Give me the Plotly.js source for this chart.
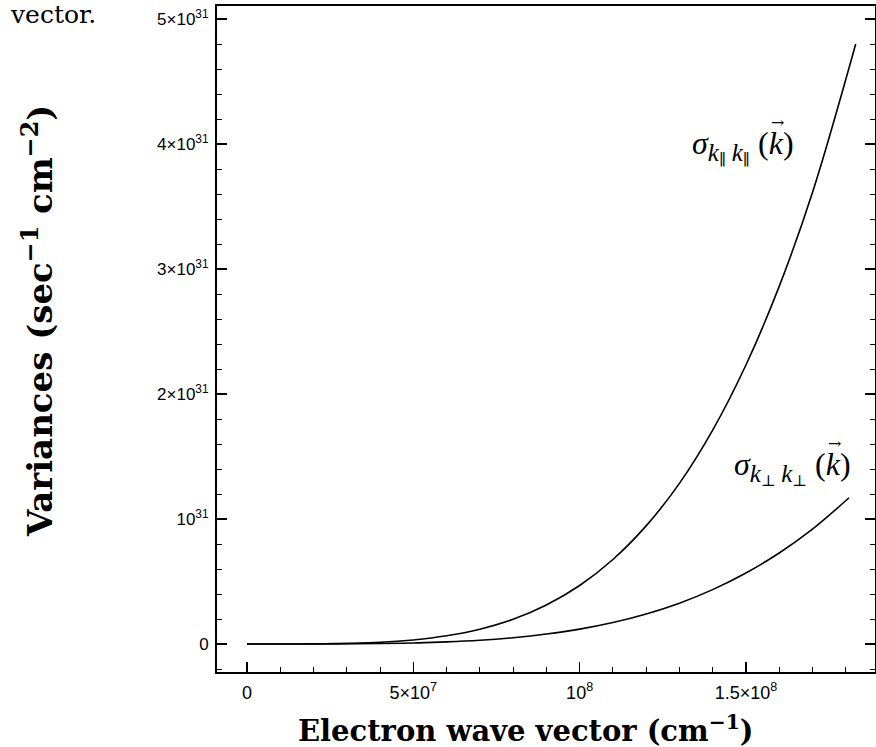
<!DOCTYPE html>
<html>
<head>
<meta charset="utf-8">
<script src="https://cdn.plot.ly/plotly-3.0.1.min.js"></script>
<style>
  html, body { margin: 0; padding: 0; background: #fff; }
  #chart { width: 876px; height: 747px; }
</style>
</head>
<body>
<div id="chart"></div>
<script>
// Electron wave vector (cm^-1)
const kPar = [0, 2e7, 4e7, 5e7, 6e7, 7e7, 8e7, 9e7, 10e7, 11e7, 12e7, 13e7, 14e7, 15e7, 16e7, 17e7, 18.3e7];
const sigmaPar = [0, 0.00095e31, 0.0138e31, 0.0325e31, 0.0655e31, 0.1185e31, 0.198e31, 0.312e31, 0.468e31,
                  0.676e31, 0.945e31, 1.285e31, 1.711e31, 2.232e31, 2.861e31, 3.612e31, 4.80e31];
const kPerp = [0, 2e7, 4e7, 5e7, 6e7, 7e7, 8e7, 9e7, 10e7, 11e7, 12e7, 13e7, 14e7, 15e7, 16e7, 17e7, 18.1e7];
const sigmaPerp = [0, 0.00024e31, 0.0035e31, 0.0083e31, 0.0167e31, 0.0302e31, 0.0505e31, 0.0795e31, 0.119e31,
                   0.172e31, 0.2405e31, 0.327e31, 0.435e31, 0.568e31, 0.728e31, 0.919e31, 1.17e31];

const xTickVals = [0, 5e7, 1e8, 1.5e8];
const xTickText = ['0', '5×10<sup>7</sup>', '10<sup>8</sup>', '1.5×10<sup>8</sup>'];
const yTickVals = [0, 1e31, 2e31, 3e31, 4e31, 5e31];
const yTickText = ['0', '10<sup>31</sup>', '2×10<sup>31</sup>', '3×10<sup>31</sup>', '4×10<sup>31</sup>', '5×10<sup>31</sup>'];

const xTitle = '<b>Electron wave vector (cm<sup>−1</sup>)</b>';
const yTitle = '<b>Variances (sec<sup>−1</sup> cm<sup>−2</sup>)</b>';
const labelPar = '<i>σ</i><sub><span style="font-size:25px"><i>k</i></span><sub>∥</sub> <span style="font-size:25px"><i>k</i></span><sub>∥</sub></sub> (<i>k</i>)';
const labelPerp = '<i>σ</i><sub><span style="font-size:25px"><i>k</i></span><sub>⊥</sub> <span style="font-size:25px"><i>k</i></span><sub>⊥</sub></sub> (<i>k</i>)';

const traces = [
  { x: kPar, y: sigmaPar, type: 'scatter', mode: 'lines', line: { color: '#000', width: 1.6, shape: 'spline' }, hoverinfo: 'none' },
  { x: kPerp, y: sigmaPerp, type: 'scatter', mode: 'lines', line: { color: '#000', width: 1.6, shape: 'spline' }, hoverinfo: 'none' }
];

const serif = '"Liberation Serif", "DejaVu Serif", serif';
const wideSerif = '"DejaVu Serif", "Liberation Serif", serif';
const sans = '"Liberation Sans", Arial, sans-serif';

// plot area in pixels: x 217..875, y 6..672
const px = v => (v - 217) / 658;
const py = v => (672 - v) / 666;

const layout = {
  width: 876, height: 747,
  margin: { l: 217, r: 1, t: 6, b: 75 },
  paper_bgcolor: '#fff', plot_bgcolor: '#fff',
  showlegend: false,
  xaxis: {
    range: [-0.902e7, 1.888e8],
    showgrid: false, zeroline: false,
    showline: true, linecolor: '#000', linewidth: 2, mirror: true,
    ticks: 'inside', ticklen: 10, tickwidth: 1.2, tickcolor: '#000',
    tickmode: 'array', tickvals: xTickVals, ticktext: xTickText,
    ticklabelstandoff: 3,
    tickfont: { family: sans, size: 18, color: '#000' },
    minor: { tickmode: 'linear', tick0: 0, dtick: 1e7, ticks: 'inside', ticklen: 5, tickwidth: 1, tickcolor: '#000', showgrid: false }
  },
  yaxis: {
    range: [-0.224e31, 5.104e31],
    showgrid: false, zeroline: false,
    showline: true, linecolor: '#000', linewidth: 2, mirror: 'ticks',
    ticks: 'inside', ticklen: 10, tickwidth: 1.2, tickcolor: '#000',
    tickmode: 'array', tickvals: yTickVals, ticktext: yTickText,
    ticklabelstandoff: 3,
    tickfont: { family: sans, size: 17, color: '#000' },
    minor: { tickmode: 'linear', tick0: 0, dtick: 2e30, ticks: 'inside', ticklen: 5, tickwidth: 1, tickcolor: '#000', showgrid: false }
  },
  annotations: [
    { xref: 'paper', yref: 'paper', x: px(526), y: py(729), showarrow: false, xanchor: 'center', yanchor: 'middle',
      text: xTitle, font: { family: wideSerif, size: 29, color: '#000' } },
    { xref: 'paper', yref: 'paper', x: px(38), y: py(321), showarrow: false, xanchor: 'center', yanchor: 'middle',
      textangle: -90, text: yTitle, font: { family: wideSerif, size: 34, color: '#000' } },
    { xref: 'paper', yref: 'paper', x: px(796), y: py(146), showarrow: false, xanchor: 'right', yanchor: 'middle',
      text: labelPar, font: { family: serif, size: 32, color: '#000' } },
    { xref: 'paper', yref: 'paper', x: px(777), y: py(123), showarrow: false, xanchor: 'center', yanchor: 'middle',
      text: '→', font: { family: wideSerif, size: 16, color: '#000' } },
    { xref: 'paper', yref: 'paper', x: px(853), y: py(467), showarrow: false, xanchor: 'right', yanchor: 'middle',
      text: labelPerp, font: { family: serif, size: 32, color: '#000' } },
    { xref: 'paper', yref: 'paper', x: px(834), y: py(444), showarrow: false, xanchor: 'center', yanchor: 'middle',
      text: '→', font: { family: wideSerif, size: 16, color: '#000' } },
    { xref: 'paper', yref: 'paper', x: px(8), y: py(15), showarrow: false, xanchor: 'left', yanchor: 'middle',
      text: 'vector.', font: { family: wideSerif, size: 25, color: '#000' } }
  ]
};

Plotly.newPlot('chart', traces, layout, { staticPlot: true, displayModeBar: false });
</script>
</body>
</html>
